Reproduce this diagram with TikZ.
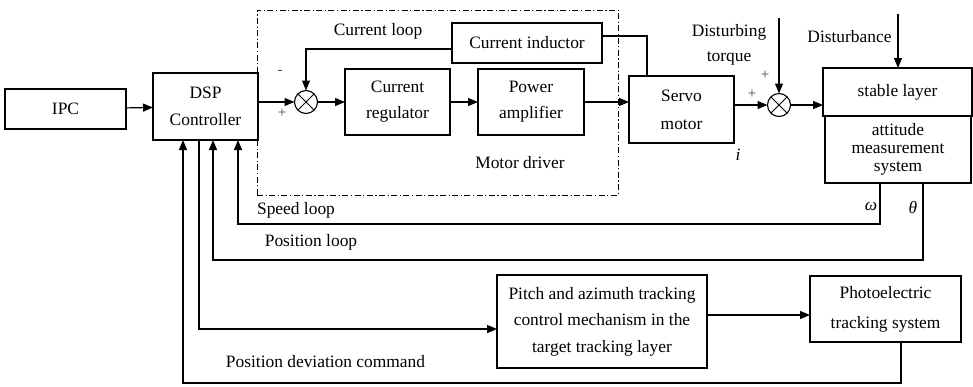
\documentclass[tikz,border=0pt]{standalone}
\usepackage{fontspec}
\setmainfont{Liberation Serif}
\usetikzlibrary{arrows.meta,calc}
\begin{document}
\begin{tikzpicture}[x=1pt,y=-1pt,
  every node/.style={font=\fontsize{17.4}{20}\selectfont},
  blk/.style={draw,line width=1.1pt,inner sep=0pt,align=center,outer sep=0pt},
  sumj/.style={draw,circle,line width=1.1pt,minimum size=23pt,inner sep=0pt,outer sep=0pt},
  arr/.style={line width=1.2pt,-{Triangle[length=10pt,width=8pt]}},
  ln/.style={line width=1.2pt},
  sgn/.style={font=\fontsize{15}{16}\selectfont,text=black!75},
  drvbox/.style={draw,line width=0.8pt,dash pattern=on 6pt off 2.5pt on 1.2pt off 2.5pt,inner sep=0pt,minimum width=361pt,minimum height=185pt}
]
\useasboundingbox (0,0) rectangle (973,386);
% frame of the motor driver
\node[drvbox] (drv) at (437.5,102.5) {};
% blocks
\node[blk,minimum width=121pt,minimum height=40pt] (ipc) at (65.5,109) {IPC};
\node[blk,minimum width=105pt,minimum height=67pt,font=\fontsize{17.4}{27}\selectfont] (dsp) at (205.5,106.5) {DSP\\Controller};
\node[sumj] (s1) at (306,102) {};
\node[blk,minimum width=105pt,minimum height=66pt,font=\fontsize{17.4}{26}\selectfont] (creg) at (397.5,102) {Current\\regulator};
\node[blk,minimum width=106pt,minimum height=66pt,font=\fontsize{17.4}{26}\selectfont] (pamp) at (531,102) {Power\\amplifier};
\node[blk,minimum width=150pt,minimum height=40pt] (cind) at (527,43) {Current inductor};
\node[blk,minimum width=105pt,minimum height=67pt,font=\fontsize{17.4}{28}\selectfont] (servo) at (681.5,109.5) {Servo\\motor};
\node[sumj] (s2) at (779,105) {};
\node[blk,minimum width=149pt,minimum height=48pt] (stab) at (897.5,92) {stable layer};
\node[blk,minimum width=146pt,minimum height=67pt,font=\fontsize{17.4}{18}\selectfont] (att) at (898,149.5) {attitude\\measurement\\system};
\node[blk,minimum width=210pt,minimum height=93pt,font=\fontsize{17.4}{26.5}\selectfont] (pitch) at (602,321.5) {Pitch and azimuth tracking\\control mechanism in the\\target tracking layer};
\node[blk,minimum width=151pt,minimum height=66pt,font=\fontsize{17.4}{30}\selectfont] (photo) at (885.5,309) {Photoelectric\\tracking system};
% crosses in the summing junctions
\foreach \s in {s1,s2}{
  \draw[line width=1pt] (\s.north west) -- (\s.south east) (\s.north east) -- (\s.south west);
}
% labels
\node (lcl) at (378,31) {Current loop};
\node[sgn] (lm) at (280,72) {-};
\node[sgn] (lp1) at (282,113) {+};
\node (lmd) at (520,163) {Motor driver};
\node[font=\fontsize{17.4}{25}\selectfont,align=center] (ldt) at (729,44.5) {Disturbing\\torque};
\node[sgn] (lp2) at (765,75) {+};
\node[sgn] (lp3) at (752,94) {+};
\node (ldist) at (849.5,37) {Disturbance};
\node[font=\fontsize{17.4}{20}\selectfont\itshape] (li) at (738,155) {i};
\node[font=\fontsize{17.4}{20}\selectfont\itshape] (lw) at (871,207) {ω};
\node[font=\fontsize{17.4}{20}\selectfont\itshape] (lth) at (913,207) {θ};
\node (lsl) at (296,210) {Speed loop};
\node (lpl) at (311,242) {Position loop};
\node (lpd) at (325.5,362) {Position deviation command};
% coordinates
\coordinate (cix) at (647,36);
\coordinate (dt) at (779,18);
\coordinate (dd) at (898,14);
\coordinate (wr) at (880,224);
\coordinate (wl) at (238,224);
\coordinate (tr) at (923,260);
\coordinate (tl) at (213,260);
\coordinate (pd) at (199,329);
\coordinate (pp) at (707,315);
\coordinate (br) at (901,383);
\coordinate (bl) at (183,383);
% forward path
\draw[arr] (ipc) -- (dsp);
\draw[arr] (dsp.east |- s1) -- (s1);
\draw[arr] (s1) -- (creg);
\draw[arr] (creg) -- (pamp);
\draw[arr] (pamp.east) -- (pamp.east -| servo.west);
\draw[arr] (servo.east |- s2) -- (s2);
\draw[arr] (s2) -- (s2 -| stab.west);
\draw[arr] (dt) -- (s2);
\draw[arr] (dd) -- (stab.north -| dd);
% current loop
\draw[arr] ([yshift=-6pt]cind.west) -| (s1);
\draw[ln] ([yshift=7pt]cind.east) -| (servo.north -| cix);
% feedback loops
\draw[arr] (att.south -| wr) -- (wr) -- (wl) -- (dsp.south -| wl);
\draw[arr] (att.south -| tr) -- (tr) -- (tl) -- (dsp.south -| tl);
\draw[arr] (dsp.south -| pd) -- (pd) -- (pitch.west |- pd);
\draw[arr] (pitch.east |- pp) -- (photo.west |- pp);
\draw[arr] (photo.south -| br) -- (br) -- (bl) -- (dsp.south -| bl);
\end{tikzpicture}
\end{document}
